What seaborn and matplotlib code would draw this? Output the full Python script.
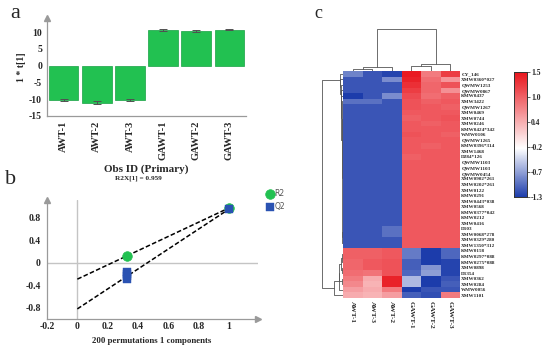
import numpy as np
import pandas as pd
import matplotlib
matplotlib.use('Agg')
import matplotlib.pyplot as plt
import seaborn as sns
from matplotlib.colors import LinearSegmentedColormap
from matplotlib.ticker import MultipleLocator

# ---------------- data ----------------
# panel a : PCA scores
samples = ['AWT-1', 'AWT-2', 'AWT-3', 'GAWT-1', 'GAWT-2', 'GAWT-3']
t1_scores = [-10.3, -11.0, -10.3, 10.6, 10.4, 10.7]
t1_err = [0.25, 0.5, 0.25, 0.2, 0.3, 0.15]
a_yticks = [-15, -10, -5, 0, 5, 10]

# panel b : permutation test
r2_x = [0.33, 1.0]
r2_vals = [0.13, 0.98]
q2_x = [0.33, 0.33, 0.33, 0.33, 1.0]
q2_vals = [-0.16, -0.20, -0.24, -0.29, 0.96]
r2_intercept = -0.29
q2_intercept = -0.82
b_xticks = [-0.2, 0, 0.2, 0.4, 0.6, 0.8, 1]
b_xticklabels = ['-0.2', '0', '0.2', '0.4', '0.6', '0.8', '1']
b_yticks = [-0.8, -0.4, 0, 0.4, 0.8]
b_yticklabels = ['-0.8', '-0.4', '0', '0.4', '0.8']

# panel c : heatmap
heat_cols = ['AWT-1', 'AWT-3', 'AWT-2', 'GAWT-1', 'GAWT-2', 'GAWT-3']
heat_rows = ['CY_146', 'XMW0360*027', 'QWMW1253', 'QWMW0867', 'KMW0437', 'XMW3422',
             'QWMW1267', 'XMW0469', 'XMW0744', 'XMW0246', 'KMW0424*342', 'WMW0106',
             'QWMW1265', 'KMW0396*314', 'XMW1468', 'D284*126', 'QWMW1103', 'QWMW1103',
             'QWMW0454', 'XMW0902*261', 'XMW0202*261', 'XMW0122', 'KMW0291', 'XMW0443*038',
             'XMW0568', 'KMW0377*042', 'KMW0212', 'XMW0416', 'D103', 'XMW0068*278',
             'XMW0329*280', 'XMW1350*312', 'KMW0158', 'KMW0297*088', 'KMW0275*088',
             'XMW0898', 'D1354', 'XMW0362', 'XMW0284', 'WMW0056', 'XMW1101']
heat_values = [
    [-0.90, -1.15, -1.25, 1.45, 0.75, 1.20],
    [-1.15, -1.15, -0.85, 1.40, 0.85, 0.55],
    [-1.15, -1.15, -1.15, 1.30, 0.90, 1.05],
    [-1.15, -1.15, -1.15, 1.20, 0.90, 0.60],
    [-1.30, -1.15, -0.85, 1.10, 0.85, 0.95],
    [-1.00, -1.00, -1.15, 1.05, 0.95, 1.00],
    [-1.15, -1.15, -1.15, 1.05, 1.00, 0.95],
    [-1.15, -1.15, -1.15, 1.00, 1.00, 1.00],
    [-1.15, -1.15, -1.15, 0.95, 1.00, 1.05],
    [-1.15, -1.15, -1.15, 1.00, 0.95, 1.00],
    [-1.15, -1.15, -1.15, 1.00, 1.00, 1.00],
    [-1.15, -1.15, -1.15, 1.05, 1.00, 0.95],
    [-1.15, -1.15, -1.15, 1.00, 1.00, 1.00],
    [-1.15, -1.15, -1.15, 1.00, 0.95, 1.00],
    [-1.15, -1.15, -1.15, 1.00, 1.00, 1.00],
    [-1.15, -1.15, -1.15, 0.95, 1.00, 1.00],
    [-1.15, -1.15, -1.15, 1.00, 1.00, 1.00],
    [-1.15, -1.15, -1.15, 1.00, 1.00, 1.00],
    [-1.15, -1.15, -1.15, 1.00, 1.00, 1.00],
    [-1.15, -1.15, -1.15, 1.00, 1.00, 1.00],
    [-1.15, -1.15, -1.15, 1.00, 1.00, 1.00],
    [-1.15, -1.15, -1.15, 1.00, 1.00, 1.00],
    [-1.15, -1.15, -1.15, 1.00, 1.00, 1.00],
    [-1.15, -1.15, -1.15, 1.00, 1.00, 1.00],
    [-1.15, -1.15, -1.15, 1.00, 1.00, 1.00],
    [-1.15, -1.15, -1.15, 1.00, 1.00, 1.00],
    [-1.15, -1.15, -1.15, 1.00, 1.00, 1.00],
    [-1.15, -1.15, -1.15, 1.00, 1.00, 1.00],
    [-1.15, -1.15, -1.00, 1.00, 1.00, 1.00],
    [-1.15, -1.15, -1.00, 1.00, 1.00, 1.00],
    [-1.15, -1.15, -1.15, 1.00, 1.00, 1.00],
    [-1.15, -1.15, -1.15, 1.00, 1.00, 1.00],
    [0.95, 0.95, 1.00, -0.95, -1.30, -1.05],
    [0.95, 0.95, 1.00, -0.95, -1.30, -1.05],
    [0.90, 1.00, 1.05, -1.10, -1.30, -1.25],
    [0.90, 1.00, 1.05, -1.10, -0.80, -1.25],
    [0.85, 0.80, 1.05, -1.05, -0.75, -1.25],
    [0.75, 0.40, 1.40, -0.60, -1.30, -1.15],
    [0.65, 0.35, 1.40, -0.60, -1.30, -1.10],
    [0.50, 0.40, 0.75, -1.30, -1.15, -1.15],
    [0.40, 0.35, 0.50, -1.10, -1.20, 0.75],
]
cbar_ticklabels = ['-1.3', '-0.7', '-0.2', '0.4', '1.0', '1.5']

# ---------------- style ----------------
sns.set_style('white')
plt.rcParams['font.family'] = ['Liberation Serif', 'DejaVu Serif']
GREEN = '#22c151'
BLUE = '#2a52b2'
SPINE = '#9a9a9a'

W, H = 550, 350
fig = plt.figure(figsize=(5.5, 3.5), dpi=100)


def box(x0, y0, x1, y1):
    return [x0 / W, 1 - y1 / H, (x1 - x0) / W, (y1 - y0) / H]


def arrow(ax, where):
    if where == 'top':
        ax.plot([0], [1], marker='^', color=SPINE, ms=4, transform=ax.transAxes, clip_on=False)
    else:
        ax.plot([1], [0], marker='>', color=SPINE, ms=4, transform=ax.transAxes, clip_on=False)


# ---------------- panel a ----------------
ax_a = fig.add_axes(box(47, 18, 246, 116))
df_a = pd.DataFrame({'sample': samples, 't1': t1_scores})
sns.barplot(data=df_a, x='sample', y='t1', color=GREEN, width=0.89, errorbar=None,
            edgecolor='#17a043', linewidth=0.5, saturation=1, ax=ax_a)
ax_a.errorbar(range(len(samples)), t1_scores, yerr=t1_err, fmt='none',
              ecolor='#505050', elinewidth=0.7, capsize=3, capthick=0.7)
ax_a.set_xlim(-0.5, 5.5)
ax_a.set_ylim(-15, 14.2)
ax_a.set_yticks(a_yticks)
ax_a.set_yticklabels([str(v) for v in a_yticks], fontsize=7, fontweight='bold')
ax_a.set_xticks(range(len(samples)))
ax_a.set_xticklabels(samples, rotation=90, fontsize=7.5, fontweight='bold')
ax_a.set_xlabel('')
ax_a.set_ylabel('1 * t[1]', fontsize=7, fontweight='bold', labelpad=2)
for s in ['top', 'right']:
    ax_a.spines[s].set_visible(False)
for s in ['left', 'bottom']:
    ax_a.spines[s].set_color(SPINE)
    ax_a.spines[s].set_linewidth(0.9)
ax_a.tick_params(axis='both', length=2, width=0.6, color=SPINE, pad=1.5)
arrow(ax_a, 'top')
fig.text(146 / W, 1 - 169 / H, 'Obs ID (Primary)', ha='center', va='center',
         fontsize=8, fontweight='bold')
fig.text(138 / W, 1 - 178.5 / H, 'R2X[1] = 0.959', ha='center', va='center',
         fontsize=5.2, fontweight='bold')

# ---------------- panel b ----------------
ax_b = fig.add_axes(box(47, 200, 258, 319))
ax_b.axhline(0, color='#c4c4c4', lw=1, zorder=0)
ax_b.axvline(0, color='#c4c4c4', lw=1, zorder=0)
ax_b.plot([0, r2_x[-1]], [r2_intercept, r2_vals[-1]], color='black', lw=1.1,
          ls=(0, (3, 1.5)), zorder=1)
ax_b.plot([0, q2_x[-1]], [q2_intercept, q2_vals[-1]], color='black', lw=1.1,
          ls=(0, (3, 1.5)), zorder=1)
sns.scatterplot(x=r2_x, y=r2_vals, marker='o', color=GREEN, s=48, edgecolor=GREEN,
                linewidth=0.5, label='R2', ax=ax_b, zorder=3)
sns.scatterplot(x=q2_x, y=q2_vals, marker='s', color=BLUE, s=26, edgecolor=BLUE,
                linewidth=0.3, label='Q2', ax=ax_b, zorder=4)
ax_b.set_xlim(-0.2, 1.19)
ax_b.set_ylim(-1.0, 1.12)
ax_b.set_xticks(b_xticks)
ax_b.set_xticklabels(b_xticklabels, fontsize=7, fontweight='bold')
ax_b.set_yticks(b_yticks)
ax_b.set_yticklabels(b_yticklabels, fontsize=7, fontweight='bold')
ax_b.xaxis.set_minor_locator(MultipleLocator(0.1))
ax_b.yaxis.set_minor_locator(MultipleLocator(0.2))
for s in ['top', 'right']:
    ax_b.spines[s].set_visible(False)
for s in ['left', 'bottom']:
    ax_b.spines[s].set_color(SPINE)
    ax_b.spines[s].set_linewidth(0.9)
ax_b.tick_params(axis='both', which='major', length=2.5, width=0.6, color=SPINE, pad=2)
ax_b.tick_params(axis='both', which='minor', length=1.5, width=0.5, color=SPINE)
ax_b.tick_params(axis='x', which='both', direction='in')
arrow(ax_b, 'top')
arrow(ax_b, 'right')
leg = ax_b.legend(loc='upper left', bbox_to_anchor=(1.025, 1.115), frameon=False,
                  prop={'family': 'DejaVu Sans', 'size': 5.5}, handletextpad=0.1,
                  borderaxespad=0, labelspacing=0.45, handlelength=1.0, markerscale=1.0)
for t in leg.get_texts():
    t.set_color('#555555')
fig.text(152 / W, 1 - 341 / H, '200 permutations 1 components', ha='center', va='center',
         fontsize=6.3, fontweight='bold')

# ---------------- panel c ----------------
data_c = pd.DataFrame(heat_values, index=heat_rows, columns=heat_cols)
cmap = LinearSegmentedColormap.from_list(
    'bwr_custom', [(0.0, '#1c3cab'), (0.39, '#ffffff'), (1.0, '#e8141c')])
vmin, vmax = -1.3, 1.5

ax_h = fig.add_axes(box(343, 71, 460, 298))
ax_cb = fig.add_axes(box(514, 72, 527, 197))
sns.heatmap(data_c, cmap=cmap, vmin=vmin, vmax=vmax, ax=ax_h, cbar_ax=ax_cb,
            xticklabels=True, yticklabels=True)
ax_h.yaxis.tick_right()
ax_h.set_yticklabels(heat_rows, rotation=0, fontsize=3.7, fontweight='bold')
ax_h.set_xticklabels(heat_cols, rotation=270, fontsize=5.2, fontweight='bold')
ax_h.tick_params(axis='y', length=0, pad=1)
ax_h.tick_params(axis='x', length=2, width=0.5, pad=0.5)
ax_h.set_xlabel('')
ax_h.set_ylabel('')

cb_ticks = np.linspace(vmin, vmax, len(cbar_ticklabels))
ax_cb.set_yticks(cb_ticks)
ax_cb.set_yticklabels(cbar_ticklabels, fontsize=5.5, fontweight='bold')
ax_cb.tick_params(axis='y', length=2, width=0.5, pad=1)
for s in ax_cb.spines.values():
    s.set_visible(True)
    s.set_color('#333333')
    s.set_linewidth(0.6)


def adjacent_linkage(mat):
    n = mat.shape[0]
    clusters = [dict(members=[i], pos=i + 0.5, h=0.0) for i in range(n)]
    segs = []
    h = 0.0
    while len(clusters) > 1:
        best = None
        for k in range(len(clusters) - 1):
            a, b = clusters[k], clusters[k + 1]
            d = np.mean([np.linalg.norm(mat[i] - mat[j])
                         for i in a['members'] for j in b['members']])
            if best is None or d < best[0]:
                best = (d, k)
        d, k = best
        a, b = clusters[k], clusters[k + 1]
        h = max(d, a['h'], b['h'])
        segs.append(([a['pos'], a['pos'], b['pos'], b['pos']], [a['h'], h, h, b['h']]))
        clusters[k:k + 2] = [dict(members=a['members'] + b['members'],
                                  pos=(a['pos'] + b['pos']) / 2, h=h)]
    return segs, h


vals = data_c.values
row_segs, row_root = adjacent_linkage(vals)
col_segs, col_root = adjacent_linkage(vals.T)

ax_rd = fig.add_axes(box(320, 71, 343, 298))
for p, hh in row_segs:
    ax_rd.plot(hh, p, color='#555555', lw=0.6)
ax_rd.set_ylim(len(heat_rows), 0)
ax_rd.set_xlim(row_root * 1.1, 0)
ax_rd.axis('off')

ax_cd = fig.add_axes(box(343, 28, 460, 71))
for p, hh in col_segs:
    ax_cd.plot(p, hh, color='#555555', lw=0.6)
ax_cd.set_xlim(0, len(heat_cols))
ax_cd.set_ylim(0, col_root * 1.03)
ax_cd.axis('off')

# panel letters
fig.text(15 / W, 1 - 13 / H, 'a', fontsize=16, ha='center', va='center')
fig.text(11 / W, 1 - 179 / H, 'b', fontsize=16, ha='center', va='center')
fig.text(318 / W, 1 - 13 / H, 'c', fontsize=13, ha='center', va='center')

fig.savefig('out.png', dpi=100)
